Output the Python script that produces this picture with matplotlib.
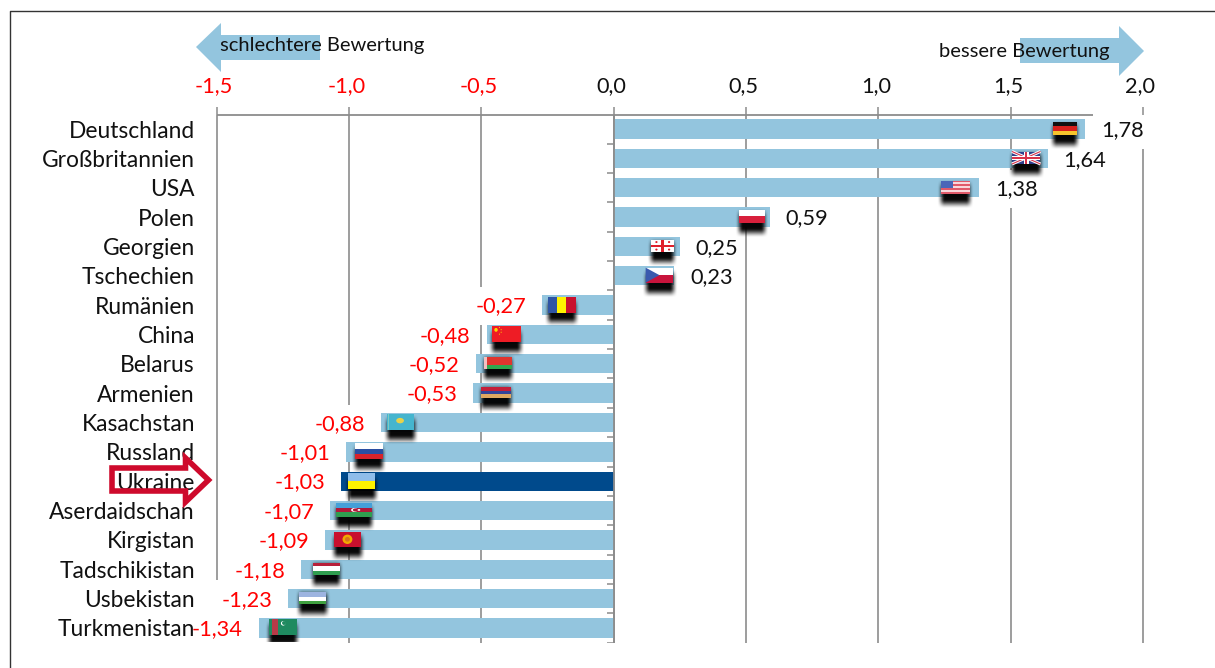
import numpy as np
import matplotlib
matplotlib.use("Agg")
import matplotlib.pyplot as plt
from matplotlib.patches import Polygon, Rectangle, Ellipse
from matplotlib.path import Path
from matplotlib.lines import Line2D
from matplotlib.transforms import Affine2D, ScaledTranslation

plt.rcParams['font.family'] = ['Lato', 'DejaVu Sans']

countries = ["Deutschland", "Großbritannien", "USA", "Polen", "Georgien", "Tschechien",
             "Rumänien", "China", "Belarus", "Armenien", "Kasachstan", "Russland",
             "Ukraine", "Aserdaidschan", "Kirgistan", "Tadschikistan", "Usbekistan",
             "Turkmenistan"]
values = [1.78, 1.64, 1.38, 0.59, 0.25, 0.23, -0.27, -0.48, -0.52, -0.53, -0.88,
          -1.01, -1.03, -1.07, -1.09, -1.18, -1.23, -1.34]
x_ticks = [-1.5, -1.0, -0.5, 0.0, 0.5, 1.0, 1.5, 2.0]
highlight = "Ukraine"

# flag placement: inset from bar end, width, height (pixels)
flag_sizes = {
    "Deutschland": (19.5, 24, 13), "Großbritannien": (21.5, 28.5, 12.5), "USA": (23, 29, 13),
    "Polen": (18, 26, 13), "Georgien": (17, 22.6, 12.5), "Tschechien": (15, 27.6, 15),
    "Rumänien": (19.7, 28, 16), "China": (19.8, 28.6, 16), "Belarus": (22, 27.5, 12.5),
    "Armenien": (23, 30, 11.5), "Kasachstan": (20, 27.6, 16), "Russland": (22.6, 27.7, 16),
    "Ukraine": (20.5, 27.5, 16), "Aserdaidschan": (24, 36, 13.5), "Kirgistan": (22.4, 27.4, 15.6),
    "Tadschikistan": (25, 27, 12), "Usbekistan": (24.5, 27.4, 12), "Turkmenistan": (24.3, 28, 16),
}

W, H = 1215, 668
BAR = "#93C5DE"
DARK = "#004A8C"
GREY = "#8C8C8C"
RED = "#FF0000"
FS_CAT = 16.4
FS_VAL = 15.7
FS_TICK = 15.7
FS_NOTE = 14.5

fig = plt.figure(figsize=(W / 100, H / 100), dpi=100, facecolor="white")


def fx(p):
    return p / W


def fy(p):
    return 1 - p / H


AX_L, AX_R, AX_T, AX_B = 216.5, 1143.0, 115.0, 642.5
ROW0, ROWH = 129.0, 29.35
ax = fig.add_axes([fx(AX_L), fy(AX_B), (AX_R - AX_L) / W, (AX_B - AX_T) / H])
ax.set_xlim(-1.5, 2.0)
ax.set_ylim((AX_B - ROW0) / ROWH, (AX_T - ROW0) / ROWH)
ax.patch.set_alpha(0)
for s in ax.spines.values():
    s.set_visible(False)
PXX = 3.5 / (AX_R - AX_L)
PXY = 1 / ROWH
rows = np.arange(len(countries))

# x axis on top
ax.xaxis.tick_top()
ax.set_xticks(x_ticks)
ax.set_xticklabels([f"{t:.1f}".replace(".", ",") for t in x_ticks], fontsize=FS_TICK)
ax.tick_params(axis="x", length=5.8, width=1.1, color=GREY, pad=8)
shift = ScaledTranslation(-2.5 / 100, 0, fig.dpi_scale_trans)
for lab, t in zip(ax.get_xticklabels(), x_ticks):
    lab.set_color(RED if t < 0 else "#111111")
    lab.set_transform(lab.get_transform() + shift)

# y axis labels
ax.set_yticks(rows)
ax.set_yticklabels(countries, fontsize=FS_CAT, color="#111111")
ax.tick_params(axis="y", length=0, pad=15.5)
ax.yaxis.set_zorder(6)
ax.xaxis.set_zorder(6)

# gridlines
bottom = ax.get_ylim()[0]
top = ax.get_ylim()[1]
for t in x_ticks:
    end = (580 - ROW0) / ROWH if t == -1.5 else bottom
    ax.plot([t, t], [top, end], color=GREY, lw=1.2, zorder=1, solid_capstyle="butt", clip_on=False)
ax.plot([-1.5, (1092.7 - AX_L) * PXX - 1.5], [top, top], color=GREY, lw=1.3, zorder=1.2,
        solid_capstyle="butt", clip_on=False)

# bars
colors = [DARK if c == highlight else BAR for c in countries]
ax.barh(rows, values, height=0.66, color=colors, zorder=2)

# zero axis with its small ticks at row borders
ax.plot([0, 0], [top, bottom], color=GREY, lw=1.3, zorder=3, solid_capstyle="butt")
edges = np.arange(len(countries) + 1) - 0.5
ax.hlines(edges, -7 * PXX, 0, color=GREY, lw=1.1, zorder=3)


def label_mask(x0, y0, width, height, mutation_size):
    # white backing of a value label: tall, barely wider than the text
    padx, pady = 3, 9
    l, r, b, t = x0 - padx, x0 + width + padx, y0 - pady, y0 + height + pady
    return Path([(l, b), (r, b), (r, t), (l, t), (l, b)], closed=True)


# value labels
for r, v in zip(rows, values):
    ax.annotate(f"{v:.2f}".replace(".", ","), (v, r), xytext=(11.5 if v > 0 else -11.5, -1),
                textcoords="offset points", ha="left" if v > 0 else "right", va="center",
                fontsize=FS_VAL, color="#111111" if v > 0 else RED, zorder=1.5,
                bbox=dict(boxstyle=label_mask, fc="white", ec="none"))


def hstripes(t, cols, weights=None):
    weights = weights or [1] * len(cols)
    y = 0
    for c, w in zip(cols, weights):
        w = w / sum(weights)
        ax.add_patch(Rectangle((0, y), 1, w, fc=c, ec="none", transform=t, zorder=4.2))
        y += w


def vstripes(t, cols):
    for i, c in enumerate(cols):
        ax.add_patch(Rectangle((i / len(cols), 0), 1 / len(cols), 1, fc=c, ec="none", transform=t, zorder=4.2))


def rect(t, x, y, w, h, c, z=4.3):
    ax.add_patch(Rectangle((x, y), w, h, fc=c, ec="none", transform=t, zorder=z))


def line(t, xs, ys, c, lw):
    ax.add_line(Line2D(xs, ys, color=c, lw=lw, transform=t, zorder=4.3, solid_capstyle="butt"))


def blob(t, cx, cy, rx, ry, c):
    ax.add_patch(Ellipse((cx, cy), 2 * rx, 2 * ry, fc=c, ec="none", transform=t, zorder=4.4))


def paint(name, t):
    if name == "Deutschland":
        hstripes(t, ["#111111", "#D8201C", "#F6C52C"])
    elif name == "Großbritannien":
        hstripes(t, ["#2E3F8C"])
        line(t, [0, 1], [0, 1], "white", 2.2)
        line(t, [0, 1], [1, 0], "white", 2.2)
        line(t, [0, 1], [0, 1], "#D8324A", 0.8)
        line(t, [0, 1], [1, 0], "#D8324A", 0.8)
        rect(t, 0, 0.34, 1, 0.32, "white")
        rect(t, 0.41, 0, 0.18, 1, "white")
        rect(t, 0, 0.42, 1, 0.16, "#D8324A", 4.35)
        rect(t, 0.46, 0, 0.08, 1, "#D8324A", 4.35)
    elif name == "USA":
        hstripes(t, ["#E05A6A", "#F8D8DC"] * 3 + ["#E05A6A"])
        rect(t, 0, 0, 0.4, 0.55, "#4A66B8")
    elif name == "Polen":
        hstripes(t, ["#FFFFFF", "#D8203C"])
    elif name == "Georgien":
        hstripes(t, ["#FFFFFF"])
        rect(t, 0, 0.42, 1, 0.16, "#E0202C")
        rect(t, 0.44, 0, 0.12, 1, "#E0202C")
        for a in (0.22, 0.78):
            for b in (0.2, 0.8):
                blob(t, a, b, 0.05, 0.08, "#E0202C")
    elif name == "Tschechien":
        hstripes(t, ["#FFFFFF", "#C8143C"])
        ax.add_patch(Polygon([(0, 0), (0.5, 0.5), (0, 1)], fc="#3A5AAE", ec="none", transform=t, zorder=4.3))
    elif name == "Rumänien":
        vstripes(t, ["#2F55A4", "#FFF200", "#C8102E"])
    elif name == "China":
        hstripes(t, ["#EE1C25"])
        blob(t, 0.14, 0.25, 0.06, 0.12, "#FFD700")
        for a, b in [(0.26, 0.1), (0.32, 0.24), (0.32, 0.4), (0.26, 0.52)]:
            blob(t, a, b, 0.018, 0.035, "#FFD700")
    elif name == "Belarus":
        hstripes(t, ["#E0352E", "#2FA84F"], [2, 1])
        rect(t, 0, 0, 0.1, 1, "#F4C0C0")
    elif name == "Armenien":
        hstripes(t, ["#C41E3A", "#33449A", "#E0A860"])
    elif name == "Kasachstan":
        hstripes(t, ["#45B5CE"])
        blob(t, 0.48, 0.42, 0.14, 0.17, "#E8D24A")
        rect(t, 0.04, 0, 0.05, 1, "#7FC9C0")
    elif name == "Russland":
        hstripes(t, ["#FFFFFF", "#2A4FA2", "#D8232A"])
    elif name == "Ukraine":
        hstripes(t, ["#8FBDEA", "#FFF200"])
    elif name == "Aserdaidschan":
        hstripes(t, ["#45A0D8", "#B0193A", "#2F9E50"])
        blob(t, 0.5, 0.5, 0.09, 0.14, "white")
        blob(t, 0.53, 0.5, 0.07, 0.11, "#B0193A")
        blob(t, 0.63, 0.5, 0.035, 0.07, "white")
    elif name == "Kirgistan":
        hstripes(t, ["#C8102E"])
        blob(t, 0.5, 0.5, 0.18, 0.3, "#F2A900")
        blob(t, 0.5, 0.5, 0.09, 0.15, "#D8741C")
    elif name == "Tadschikistan":
        hstripes(t, ["#B8203A", "#FFFFFF", "#2F9E50"], [3, 4, 3])
    elif name == "Usbekistan":
        hstripes(t, ["#9DB4E0", "#FFFFFF", "#3FA040"], [5, 4, 3])
        rect(t, 0, 0.38, 1, 0.05, "#D9A0A8")
        rect(t, 0, 0.72, 1, 0.05, "#B0C0A0")
    elif name == "Turkmenistan":
        hstripes(t, ["#1F8A60"])
        rect(t, 0.1, 0, 0.22, 1, "#B83A48")
        blob(t, 0.5, 0.25, 0.08, 0.14, "white")
        blob(t, 0.53, 0.23, 0.07, 0.12, "#1F8A60")


def shadow_alpha(w, h, blurx, blury):
    xs = np.linspace(0, w, int(w) * 2)
    ys = np.linspace(0, h, int(h) * 2)
    ax_ = np.clip(np.minimum(xs, w - xs) / blurx, 0, 1)
    ay_ = np.clip(np.minimum(ys, h - ys) / blury, 0, 1)
    ax_ = ax_ * ax_ * (3 - 2 * ax_)
    ay_ = ay_ * ay_ * (3 - 2 * ay_)
    img = np.zeros((len(ys), len(xs), 4))
    img[..., 3] = np.outer(ay_, ax_) * 0.97
    return img


for name, r, v in zip(countries, rows, values):
    inset, w, h = flag_sizes[name]
    cx = v - np.sign(v) * inset * PXX
    cy = r - 0.6 * PXY
    wd, hd = w * PXX, h * PXY
    x0, y0 = cx - wd / 2, cy - hd / 2
    # blurred drop shadow under the flag
    sw, sh = w + 8, 30
    ax.imshow(shadow_alpha(sw, sh, 8, 10),
              extent=(cx - sw * PXX / 2, cx + sw * PXX / 2,
                      y0 + hd + 15 * PXY, y0 + hd + (15 - sh) * PXY),
              aspect="auto", zorder=3.5, interpolation="bilinear")
    t = Affine2D().scale(wd, hd).translate(x0, y0) + ax.transData
    paint(name, t)

ax.set_xlim(-1.5, 2.0)
ax.set_ylim(bottom, top)


def fig_poly(px, **kw):
    pts = [(fx(x), fy(y)) for x, y in px]
    fig.add_artist(Polygon(pts, transform=fig.transFigure, **kw))


# direction arrows
fig_poly([(196, 47), (221, 23), (221, 35), (320, 35), (320, 60), (221, 60), (221, 72)],
         fc=BAR, ec="none", zorder=0.5)
fig_poly([(1144, 51), (1119, 26), (1119, 38), (1020, 38), (1020, 63), (1119, 63), (1119, 76)],
         fc=BAR, ec="none", zorder=0.5)
fig.text(fx(220), fy(45), "schlechtere Bewertung", fontsize=FS_NOTE, va="center", ha="left", color="#111111")
fig.text(fx(939), fy(51), "bessere Bewertung", fontsize=FS_NOTE, va="center", ha="left", color="#111111")

# highlight arrow around Ukraine
fig_poly([(112, 468), (185.5, 468), (185.5, 458), (208.5, 480), (185.5, 502), (185.5, 491), (112, 491)],
         fc="none", ec="#CE0A2C", lw=4, joinstyle="miter", zorder=10)

# frame
fig.add_artist(Line2D([fx(10), fx(10), fx(1215)], [fy(668), fy(10.5), fy(10.5)], color="#333333", lw=1.0,
                      transform=fig.transFigure, zorder=0.2))

fig.savefig("out.png", dpi=100, facecolor="white")
